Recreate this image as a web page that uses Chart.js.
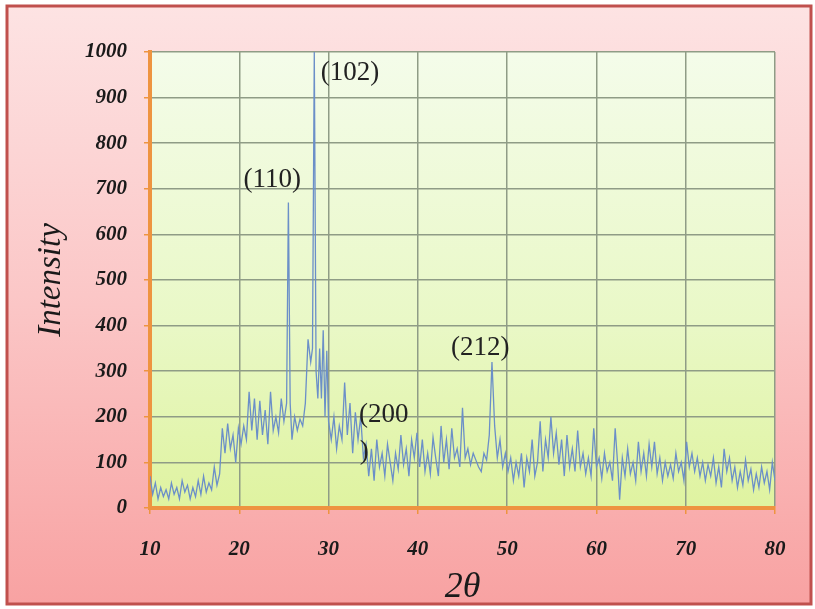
<!DOCTYPE html>
<html lang="en">
<head>
<meta charset="UTF-8">
<title>XRD pattern</title>
<script src="https://cdn.jsdelivr.net/npm/chart.js@4/dist/chart.umd.min.js"></script>
<style>
  body { margin: 0; background: #fff; }
  #wrap { position: relative; width: 815px; height: 609px; }
</style>
<script>
// 2-theta positions (deg) and intensity
const twoTheta = [
  10.0, 10.3, 10.6, 10.9, 11.2, 11.5, 11.8, 12.1, 12.4, 12.7, 13.0, 13.3, 13.6, 13.9, 14.2, 14.5,
  14.8, 15.1, 15.4, 15.7, 16.0, 16.3, 16.6, 16.9, 17.2, 17.5, 17.8, 18.1, 18.4, 18.7, 19.0, 19.3,
  19.6, 19.9, 20.2, 20.5, 20.8, 21.1, 21.4, 21.7, 22.0, 22.3, 22.6, 22.9, 23.2, 23.5, 23.8, 24.1,
  24.4, 24.7, 25.0, 25.3, 25.5, 25.7, 25.9, 26.2, 26.5, 26.8, 27.1, 27.4, 27.7, 28.0, 28.2, 28.4,
  28.6, 28.8, 29.0, 29.2, 29.4, 29.6, 29.8, 30.0, 30.3, 30.6, 30.9, 31.2, 31.5, 31.8, 32.1, 32.4,
  32.7, 33.0, 33.3, 33.6, 33.9, 34.2, 34.5, 34.8, 35.1, 35.4, 35.7, 36.0, 36.3, 36.6, 36.9, 37.2,
  37.5, 37.8, 38.1, 38.4, 38.7, 39.0, 39.3, 39.6, 39.9, 40.2, 40.5, 40.8, 41.1, 41.4, 41.7, 42.0,
  42.3, 42.6, 42.9, 43.2, 43.5, 43.8, 44.1, 44.4, 44.7, 45.0, 45.3, 45.6, 45.9, 46.2, 46.5, 46.8,
  47.1, 47.4, 47.7, 48.0, 48.3, 48.6, 48.9, 49.2, 49.5, 49.8, 50.1, 50.4, 50.7, 51.0, 51.3, 51.6,
  51.9, 52.2, 52.5, 52.8, 53.1, 53.4, 53.7, 54.0, 54.3, 54.6, 54.9, 55.2, 55.5, 55.8, 56.1, 56.4,
  56.7, 57.0, 57.3, 57.6, 57.9, 58.2, 58.5, 58.8, 59.1, 59.4, 59.7, 60.0, 60.3, 60.6, 60.9, 61.2,
  61.5, 61.8, 62.1, 62.4, 62.6, 62.9, 63.2, 63.5, 63.8, 64.1, 64.4, 64.7, 65.0, 65.3, 65.6, 65.9,
  66.2, 66.5, 66.8, 67.1, 67.4, 67.7, 68.0, 68.3, 68.6, 68.9, 69.2, 69.5, 69.8, 70.1, 70.4, 70.7,
  71.0, 71.3, 71.6, 71.9, 72.2, 72.5, 72.8, 73.1, 73.4, 73.7, 74.0, 74.3, 74.6, 74.9, 75.2, 75.5,
  75.8, 76.1, 76.4, 76.7, 77.0, 77.3, 77.6, 77.9, 78.2, 78.5, 78.8, 79.1, 79.4, 79.7, 80.0
]
const intensity = [
  70, 30, 55, 20, 45, 25, 40, 20, 55, 30, 45, 20, 60, 35, 50, 20,
  45, 25, 60, 30, 70, 35, 55, 40, 90, 50, 75, 175, 120, 185, 130, 160,
  100, 175, 140, 180, 150, 255, 170, 240, 150, 235, 160, 215, 140, 255, 170, 200,
  165, 240, 190, 230, 670, 230, 150, 200, 170, 195, 180, 230, 370, 320, 350, 1000,
  300, 240, 350, 240, 390, 200, 345, 190, 150, 200, 130, 180, 150, 275, 160, 230,
  120, 210, 150, 200, 110, 140, 70, 130, 60, 150, 90, 120, 70, 140, 100, 60,
  120, 85, 160, 95, 130, 70, 150, 110, 165, 90, 150, 80, 120, 75, 155, 110,
  70, 180, 100, 150, 85, 175, 110, 130, 90, 220, 110, 130, 95, 120, 105, 90,
  80, 120, 105, 160, 320, 180, 110, 150, 90, 120, 80, 110, 60, 100, 70, 120,
  45, 110, 80, 150, 70, 100, 190, 80, 150, 110, 200, 120, 165, 95, 150, 70,
  160, 90, 130, 80, 170, 90, 120, 75, 110, 70, 175, 90, 110, 65, 120, 80,
  100, 60, 175, 90, 18, 110, 70, 130, 75, 100, 60, 145, 80, 120, 70, 140,
  90, 145, 75, 110, 60, 100, 70, 95, 65, 120, 80, 100, 60, 145, 90, 120,
  80, 110, 70, 100, 60, 95, 70, 110, 55, 90, 45, 130, 80, 110, 60, 90,
  45, 80, 50, 105, 60, 85, 40, 75, 45, 90, 55, 80, 40, 100, 60
]

const xTicks = [10, 20, 30, 40, 50, 60, 70, 80]
const peakLabels = ['(110)', '(102)', '(212)', '(200', ')']
const peakLabelX = [23.7, 32.4, 47.0, 33.4, 33.5]
const peakLabelY = [720, 955, 350, 205, 122]

window.onload = function() {
  const ctx = document.getElementById('chart').getContext('2d')

  const points = twoTheta.map((t, i) => ({ x: t, y: intensity[i] }))

  // pink frame with dark red border + greenish plot background
  const backdrop = {
    id: 'backdrop',
    beforeDraw(chart) {
      const c = chart.ctx
      const { left, right, top, bottom } = chart.chartArea
      c.save()
      c.fillStyle = '#ffffff'
      c.fillRect(0, 0, chart.width, chart.height)
      const g = c.createLinearGradient(0, 6, 0, 604)
      g.addColorStop(0, '#fde3e3')
      g.addColorStop(0.5, '#fbc6c6')
      g.addColorStop(1, '#f8a2a2')
      c.fillStyle = g
      c.fillRect(7, 6, 804, 598)
      c.strokeStyle = '#c0504d'
      c.lineWidth = 3
      c.strokeRect(7, 6, 804, 598)
      const pg = c.createLinearGradient(0, top, 0, bottom)
      pg.addColorStop(0, '#f4fcea')
      pg.addColorStop(0.6, '#e9f8c6')
      pg.addColorStop(1, '#dff3a0')
      c.fillStyle = pg
      c.fillRect(left, top, right - left, bottom - top)
      c.restore()
    }
  }

  const peakText = {
    id: 'peakText',
    afterDatasetsDraw(chart) {
      const c = chart.ctx
      const xs = chart.scales.x
      const ys = chart.scales.y
      c.save()
      c.font = '27px "Liberation Serif", "Times New Roman", serif'
      c.fillStyle = '#222'
      c.textBaseline = 'middle'
      peakLabels.forEach((txt, i) => {
        const px = xs.getPixelForValue(peakLabelX[i])
        const py = ys.getPixelForValue(peakLabelY[i])
        c.textAlign = i < 3 ? 'center' : 'left'
        c.fillText(txt, px, py)
      })
      c.restore()
    }
  }

  const tickFont = { family: '"Liberation Serif", "Times New Roman", serif', size: 21, style: 'italic', weight: 'bold' }

  new Chart(ctx, {
    type: 'line',
    data: {
      datasets: [{
        data: points,
        borderColor: '#6b8fc8',
        borderWidth: 1.3,
        pointRadius: 0,
        tension: 0,
        fill: false
      }]
    },
    options: {
      responsive: false,
      animation: false,
      layout: { padding: { top: 52, right: 40, left: 0, bottom: 0 } },
      plugins: { legend: { display: false }, tooltip: { enabled: false } },
      scales: {
        x: {
          type: 'linear',
          min: 10,
          max: 80,
          afterFit(scale) { scale.height = 101 },
          afterBuildTicks(scale) { scale.ticks = xTicks.map(v => ({ value: v })) },
          grid: { color: '#8f9c86', lineWidth: 1.5, tickColor: '#ee9440', tickLength: 6 },
          border: { color: '#ee9440', width: 4 },
          ticks: { font: tickFont, color: '#1a1a1a', padding: 23, maxRotation: 0 },
          title: {
            display: true,
            text: '2θ',
            font: { family: '"Liberation Serif", "Times New Roman", serif', size: 36, style: 'italic' },
            color: '#1a1a1a',
            padding: { top: 3, bottom: 0 }
          }
        },
        y: {
          min: 0,
          max: 1000,
          afterFit(scale) { scale.width = 150 },
          grid: { color: '#8f9c86', lineWidth: 1.5, tickColor: '#ee9440', tickLength: 6 },
          border: { color: '#ee9440', width: 4 },
          ticks: { stepSize: 100, font: tickFont, color: '#1a1a1a', padding: 17, callback: v => String(v) },
          title: {
            display: true,
            text: 'Intensity',
            font: { family: '"Liberation Serif", "Times New Roman", serif', size: 33, style: 'italic' },
            color: '#1a1a1a',
            padding: { top: 32, bottom: 0 }
          }
        }
      }
    },
    plugins: [backdrop, peakText]
  })
}
</script>
</head>
<body>
<div id="wrap">
  <canvas id="chart" width="815" height="609"></canvas>
</div>
</body>
</html>
